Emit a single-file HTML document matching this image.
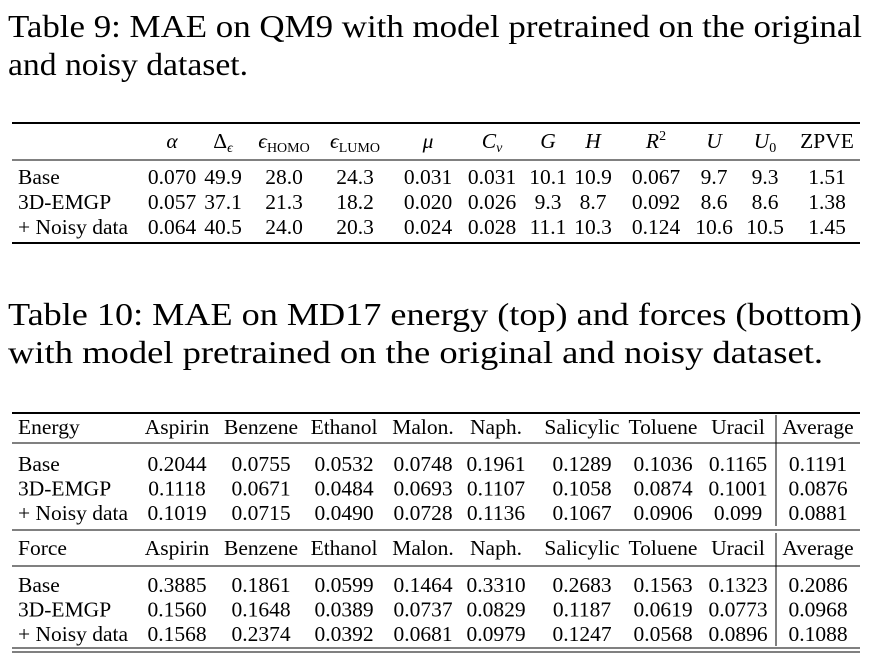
<!DOCTYPE html>
<html><head><meta charset="utf-8"><style>
html,body{margin:0;padding:0;background:#fff;}
svg{display:block;font-family:"Liberation Serif",serif;fill:#000;}
</style></head><body>
<svg id="s" width="874" height="667" viewBox="0 0 874 667">
<text x="8" y="37" font-size="32" textLength="854" lengthAdjust="spacingAndGlyphs">Table 9: MAE on QM9 with model pretrained on the original</text>
<text x="8" y="75" font-size="32" textLength="240" lengthAdjust="spacingAndGlyphs">and noisy dataset.</text>
<text x="8" y="325" font-size="32" textLength="854" lengthAdjust="spacingAndGlyphs">Table 10: MAE on MD17 energy (top) and forces (bottom)</text>
<text x="8" y="363" font-size="32" textLength="815" lengthAdjust="spacingAndGlyphs">with model pretrained on the original and noisy dataset.</text>
<g id="t9"></g>
<g id="t10"></g>
</svg>
<script>
const t9Cols=[172,223,284,355,428,492,548,593,656,714,765,827];
const t9Labels=["Base","3D-EMGP","+ Noisy data"];
const t9Rows=[
["0.070","49.9","28.0","24.3","0.031","0.031","10.1","10.9","0.067","9.7","9.3","1.51"],
["0.057","37.1","21.3","18.2","0.020","0.026","9.3","8.7","0.092","8.6","8.6","1.38"],
["0.064","40.5","24.0","20.3","0.024","0.028","11.1","10.3","0.124","10.6","10.5","1.45"]];
const t10Cols=[177,261,344,423,496,582,663,738,818];
const t10Head=["Aspirin","Benzene","Ethanol","Malon.","Naph.","Salicylic","Toluene","Uracil","Average"];
const energy=[
["0.2044","0.0755","0.0532","0.0748","0.1961","0.1289","0.1036","0.1165","0.1191"],
["0.1118","0.0671","0.0484","0.0693","0.1107","0.1058","0.0874","0.1001","0.0876"],
["0.1019","0.0715","0.0490","0.0728","0.1136","0.1067","0.0906","0.099","0.0881"]];
const force=[
["0.3885","0.1861","0.0599","0.1464","0.3310","0.2683","0.1563","0.1323","0.2086"],
["0.1560","0.1648","0.0389","0.0737","0.0829","0.1187","0.0619","0.0773","0.0968"],
["0.1568","0.2374","0.0392","0.0681","0.0979","0.1247","0.0568","0.0896","0.1088"]];
const NS="http://www.w3.org/2000/svg";
const FS="21.5";
function txt(g,x,y,s,anchor,name){
  const t=document.createElementNS(NS,"text");
  t.setAttribute("x",x);t.setAttribute("y",y);t.setAttribute("font-size",FS);
  t.setAttribute("text-anchor",anchor);
  
  
  t.innerHTML=s;g.appendChild(t);return t;
}
function line(g,x1,y1,x2,y2,w,name){
  const l=document.createElementNS(NS,"line");
  l.setAttribute("x1",x1);l.setAttribute("y1",y1);l.setAttribute("x2",x2);l.setAttribute("y2",y2);
  l.setAttribute("stroke","#000");l.setAttribute("stroke-width",w);
  
  
  g.appendChild(l);
}
const g9=document.getElementById("t9");
line(g9,12,123,860,123,2,"top-rule");
line(g9,12,160,860,160,1,"mid-rule");
line(g9,12,243,860,243,2,"bottom-rule");
const h9=['<tspan font-style="italic">α</tspan>','Δ<tspan font-size="14" dy="4" font-style="italic">ϵ</tspan>',
'<tspan font-style="italic">ϵ</tspan><tspan font-size="14" dy="4">HOMO</tspan>','<tspan font-style="italic">ϵ</tspan><tspan font-size="14" dy="4">LUMO</tspan>',
'<tspan font-style="italic">μ</tspan>','<tspan font-style="italic">C</tspan><tspan font-size="14" dy="4" font-style="italic">ν</tspan>',
'<tspan font-style="italic">G</tspan>','<tspan font-style="italic">H</tspan>','<tspan font-style="italic">R</tspan><tspan font-size="14" dy="-8">2</tspan>',
'<tspan font-style="italic">U</tspan>','<tspan font-style="italic">U</tspan><tspan font-size="14" dy="4">0</tspan>','ZPVE'];
h9.forEach((h,i)=>txt(g9,t9Cols[i],148,h,"middle","header-cell"));
t9Rows.forEach((r,ri)=>{
  txt(g9,18,184+ri*25,t9Labels[ri],"start","row-label");
  r.forEach((v,ci)=>txt(g9,t9Cols[ci],184+ri*25,v,"middle","value-cell"));
});
const g10=document.getElementById("t10");
line(g10,12,413,860,413,2,"top-rule");
line(g10,12,443,860,443,1,"mid-rule");
line(g10,12,530,860,530,1,"section-rule");
line(g10,12,566,860,566,1,"mid-rule");
line(g10,12,648,860,648,1,"bottom-rule");
line(g10,12,652,860,652,1,"bottom-rule-2");
line(g10,776,415,776,526,1,"vertical-divider");
line(g10,776,533,776,646,1,"vertical-divider");
function block(name,head,rows,y0){
  txt(g10,18,y0,name,"start","section-label");
  head.forEach((h,i)=>txt(g10,t10Cols[i],y0,h,"middle","header-cell"));
  rows.forEach((r,ri)=>{
    const y=y0+37+ri*24.5;
    txt(g10,18,y,t9Labels[ri],"start","row-label");
    r.forEach((v,ci)=>txt(g10,t10Cols[ci],y,v,"middle","value-cell"));
  });
}
block("Energy",t10Head,energy,434);
block("Force",t10Head,force,555);
</script>
</body></html>
